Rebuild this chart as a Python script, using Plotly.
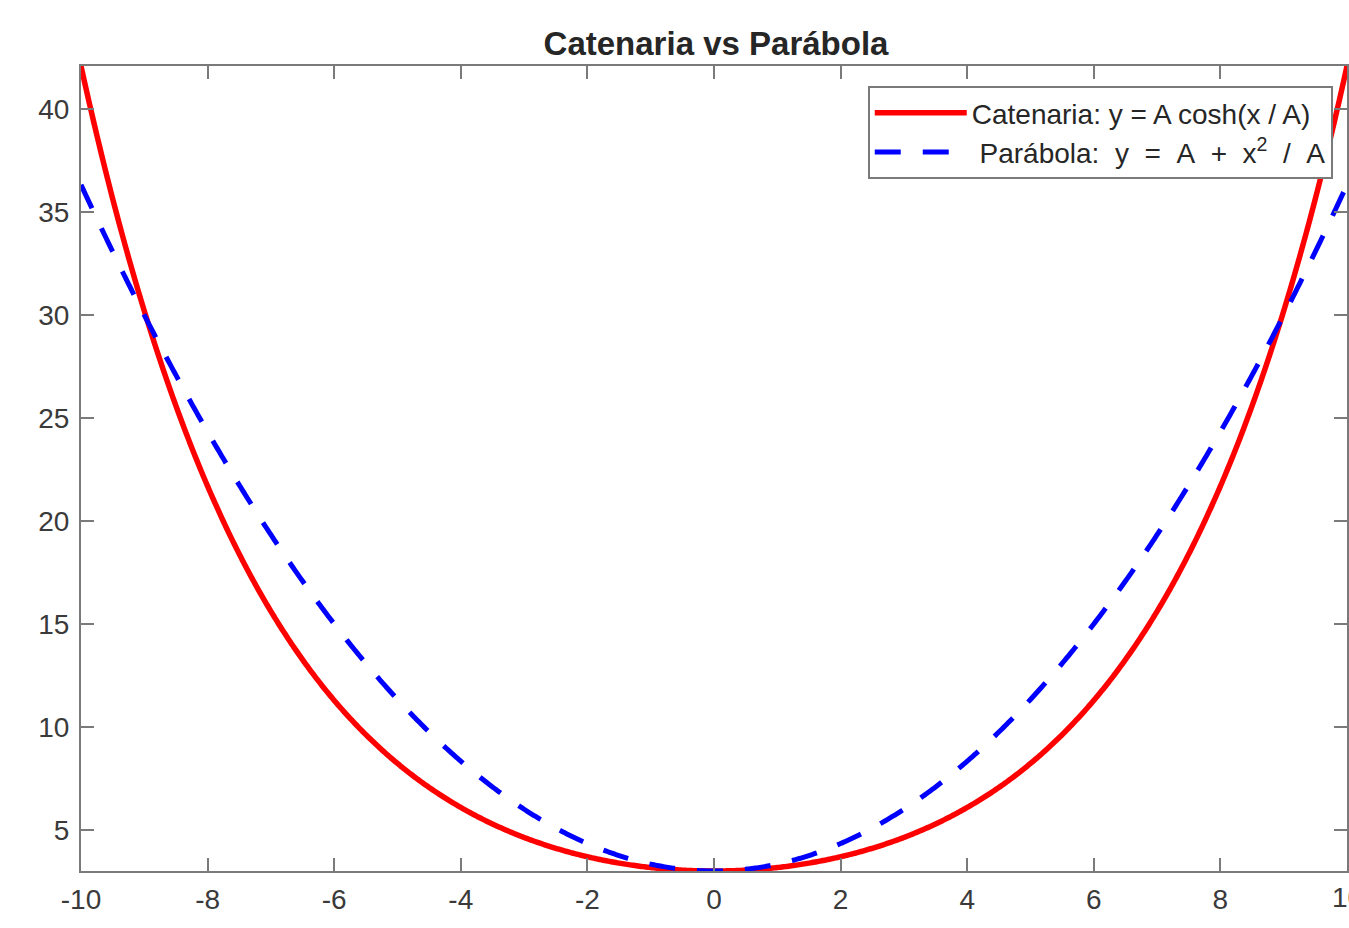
import numpy as np
import plotly.graph_objects as go

# Catenary parameter and plotted x interval
A = 3.0
x_min, x_max = -10.0, 10.0
n_samples = 801

x_ticks = [-10, -8, -6, -4, -2, 0, 2, 4, 6, 8, 10]
x_tick_text = ["-10", "-8", "-6", "-4", "-2", "0", "2", "4", "6", "8", "10"]
y_ticks = [5, 10, 15, 20, 25, 30, 35, 40]
y_tick_text = ["5", "10", "15", "20", "25", "30", "35", "40"]

x = np.linspace(x_min, x_max, n_samples)
y_cat = A * np.cosh(x / A)          # catenaria
y_par = A + x**2 / A                # parábola aproximada

NB = "\u00a0"
FONT = "Liberation Sans, Arial, sans-serif"
TICK_COLOR = "#3a3a3a"
fig = go.Figure()
fig.add_trace(go.Scatter(
    x=x, y=y_cat, mode="lines",
    name="Catenaria: y = A cosh(x / A)",
    line=dict(color="#ff0000", width=5.5, simplify=False),
))
fig.add_trace(go.Scatter(
    x=x, y=y_par, mode="lines",
    name=f"{NB}Parábola:{NB}{NB}y{NB}{NB}={NB}{NB}A{NB}{NB}+{NB}{NB}x<sup>2</sup>{NB}{NB}/{NB}{NB}A",
    line=dict(color="#0000ff", width=5, dash="26px,22px", simplify=False),
))

axis_common = dict(
    showgrid=False, zeroline=False,
    showline=True, linecolor="#7a7a7a", linewidth=2,
    mirror="ticks", ticks="inside", ticklen=13, tickwidth=2, tickcolor="#7a7a7a",
    tickfont=dict(family=FONT, size=28, color=TICK_COLOR),
)

# the last x label sits on the figure edge; place it explicitly so it is drawn (and cut by the edge)
fig.add_annotation(
    x=x_ticks[-1], y=0, xref="x", yref="paper",
    text=x_tick_text[-1], showarrow=False,
    xanchor="center", yanchor="top", yshift=-9,
    font=dict(family=FONT, size=28, color=TICK_COLOR),
)

fig.update_layout(
    width=1349, height=928,
    margin=dict(l=81, r=0, t=66, b=57),
    paper_bgcolor="white", plot_bgcolor="white",
    title=dict(
        text="<b>Catenaria vs Parábola</b>",
        x=716 / 1349, xanchor="center", xref="container",
        y=1 - 43 / 928, yanchor="middle", yref="container",
        font=dict(family=FONT, size=33, color="#262626"),
    ),
    xaxis=dict(range=[x_min, x_max], tickvals=x_ticks, ticktext=x_tick_text,
               ticklabelstandoff=2, **axis_common),
    yaxis=dict(range=[A, A * np.cosh(x_max / A)], tickvals=y_ticks, ticktext=y_tick_text,
               ticklabelstandoff=4, **axis_common),
    legend=dict(
        x=(869 - 81) / 1268, y=1 - (86 - 66) / 805,
        xanchor="left", yanchor="top",
        bgcolor="white", bordercolor="#7a7a7a", borderwidth=2,
        itemwidth=92, tracegroupgap=0,
        font=dict(family=FONT, size=28, color="#262626"),
    ),
)

fig.write_html("out.html")
